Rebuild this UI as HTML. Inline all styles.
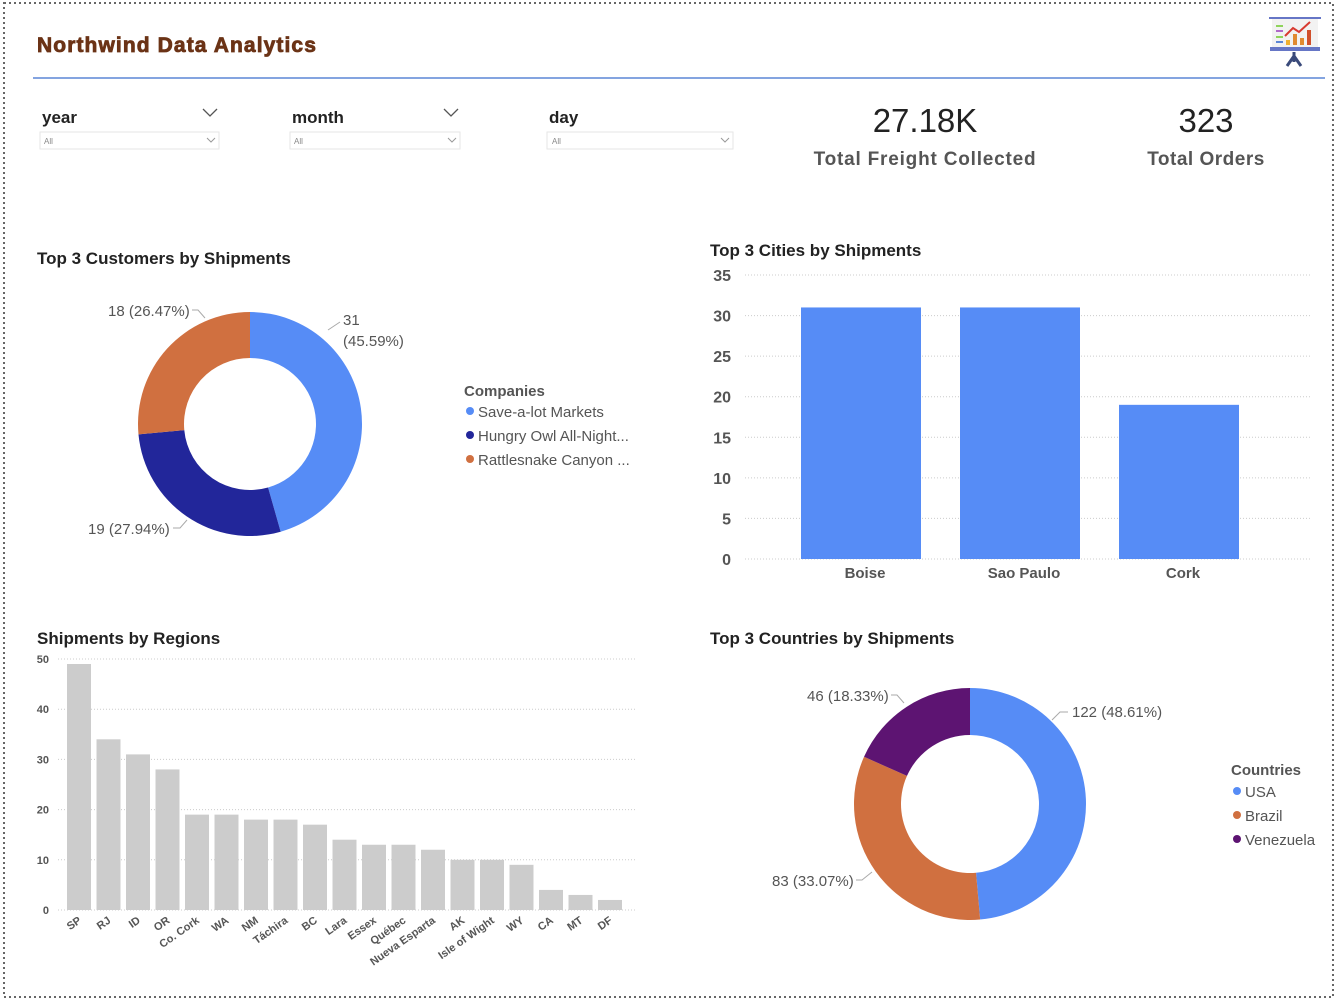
<!DOCTYPE html>
<html><head><meta charset="utf-8">
<style>
html,body{margin:0;padding:0;background:#fff;}
body{width:1337px;height:1000px;position:relative;overflow:hidden;font-family:"Liberation Sans",sans-serif;}
svg{position:absolute;left:0;top:0;}
text{font-family:"Liberation Sans",sans-serif;}
</style></head>
<body>
<svg id="s" width="1337" height="1000" viewBox="0 0 1337 1000">
<rect x="4" y="3" width="1329" height="994" fill="none" stroke="#666" stroke-width="2" stroke-dasharray="2,3"/>
<text x="37" y="52" font-size="21" font-weight="bold" fill="#6b3316" stroke="#6b3316" stroke-width="0.8" letter-spacing="1.1">Northwind Data Analytics</text>
<line x1="33" y1="78" x2="1325" y2="78" stroke="#5b86d6" stroke-width="1.5"/>
<g>
<line x1="1269" y1="18" x2="1321" y2="18" stroke="#6676c6" stroke-width="2"/>
<rect x="1272" y="19" width="46" height="28" fill="#f2f2f2"/>
<rect x="1270" y="47" width="50" height="4" fill="#6676c6"/>
<line x1="1276" y1="26" x2="1283" y2="26" stroke="#8fd45c" stroke-width="2"/>
<line x1="1276" y1="31" x2="1283" y2="31" stroke="#b067c9" stroke-width="2"/>
<line x1="1276" y1="37" x2="1283" y2="37" stroke="#8fd45c" stroke-width="2"/>
<line x1="1276" y1="42" x2="1283" y2="42" stroke="#5b86d6" stroke-width="2"/>
<rect x="1286" y="40" width="4" height="5" fill="#f0b030"/>
<rect x="1293" y="34" width="4" height="11" fill="#e08a30"/>
<rect x="1300" y="38" width="4" height="7" fill="#e08a30"/>
<rect x="1307" y="30" width="4" height="15" fill="#d0502c"/>
<polyline points="1285,36 1293,28 1299,32 1310,22" fill="none" stroke="#d83a30" stroke-width="2"/>
<path d="M1294 52 L1294 62 M1294 56 L1287 66 M1294 56 L1301 66" stroke="#3a4a7a" stroke-width="3" fill="none"/>
</g>
<g>
<text x="42" y="123" font-size="17" font-weight="bold" fill="#222">year</text>
<path d="M203 109 l7 7 l7 -7" fill="none" stroke="#555" stroke-width="1.3"/>
<rect x="40" y="132" width="179" height="17" fill="#fff" stroke="#e6e6e6"/>
<text x="44" y="144" font-size="8" fill="#888">All</text>
<path d="M207 138 l4 4 l4 -4" fill="none" stroke="#999"/>
</g>
<g>
<text x="292" y="123" font-size="17" font-weight="bold" fill="#222">month</text>
<path d="M444 109 l7 7 l7 -7" fill="none" stroke="#555" stroke-width="1.3"/>
<rect x="290" y="132" width="170" height="17" fill="#fff" stroke="#e6e6e6"/>
<text x="294" y="144" font-size="8" fill="#888">All</text>
<path d="M448 138 l4 4 l4 -4" fill="none" stroke="#999"/>
</g>
<g>
<text x="549" y="123" font-size="17" font-weight="bold" fill="#222">day</text>
<rect x="547" y="132" width="186" height="17" fill="#fff" stroke="#e6e6e6"/>
<text x="552" y="144" font-size="8" fill="#888">All</text>
<path d="M721 138 l4 4 l4 -4" fill="none" stroke="#999"/>
</g>
<text x="925" y="132" font-size="33" text-anchor="middle" fill="#222">27.18K</text>
<text x="925" y="165" font-size="19" font-weight="bold" text-anchor="middle" fill="#555" letter-spacing="0.8">Total Freight Collected</text>
<text x="1206" y="132" font-size="33" text-anchor="middle" fill="#222">323</text>
<text x="1206" y="165" font-size="19" font-weight="bold" text-anchor="middle" fill="#555" letter-spacing="0.5">Total Orders</text>

<text x="37" y="264" font-size="17" font-weight="bold" fill="#222">Top 3 Customers by Shipments</text>
<g id="donut1"></g>
<g>
<text x="464" y="396" font-size="15" font-weight="bold" fill="#555">Companies</text>
<circle cx="470" cy="411" r="4" fill="#568cf6"/><text x="478" y="417" font-size="15" fill="#555">Save-a-lot Markets</text>
<circle cx="470" cy="435" r="4" fill="#22269a"/><text x="478" y="441" font-size="15" fill="#555">Hungry Owl All-Night...</text>
<circle cx="470" cy="459" r="4" fill="#d07040"/><text x="478" y="465" font-size="15" fill="#555">Rattlesnake Canyon ...</text>
</g>

<text x="710" y="256" font-size="17" font-weight="bold" fill="#222">Top 3 Cities by Shipments</text>
<g id="cities"></g>

<text x="37" y="644" font-size="17" font-weight="bold" fill="#222">Shipments by Regions</text>
<g id="regions"></g>

<text x="710" y="644" font-size="17" font-weight="bold" fill="#222">Top 3 Countries by Shipments</text>
<g id="donut2"></g>
<g>
<text x="1231" y="775" font-size="15" font-weight="bold" fill="#555">Countries</text>
<circle cx="1237" cy="791" r="4" fill="#568cf6"/><text x="1245" y="797" font-size="15" fill="#555">USA</text>
<circle cx="1237" cy="815" r="4" fill="#d07040"/><text x="1245" y="821" font-size="15" fill="#555">Brazil</text>
<circle cx="1237" cy="839" r="4" fill="#5d1472"/><text x="1245" y="845" font-size="15" fill="#555">Venezuela</text>
</g>
</svg>
<script>
const customerNames=["Save-a-lot Markets","Hungry Owl All-Night","Rattlesnake Canyon"];
const customerValues=[31,19,18];
const customerLabels=["31","19 (27.94%)","18 (26.47%)"];
const cityNames=["Boise","Sao Paulo","Cork"];
const cityValues=[31,31,19];
const cityTicks=[0,5,10,15,20,25,30,35];
const regionNames=["SP","RJ","ID","OR","Co. Cork","WA","NM","Táchira","BC","Lara","Essex","Québec","Nueva Esparta","AK","Isle of Wight","WY","CA","MT","DF"];
const regionValues=[49,34,31,28,19,19,18,18,17,14,13,13,12,10,10,9,4,3,2];
const regionTicks=[0,10,20,30,40,50];
const countryNames=["USA","Brazil","Venezuela"];
const countryValues=[122,83,46];
const countryLabels=["122 (48.61%)","83 (33.07%)","46 (18.33%)"];

const NS="http://www.w3.org/2000/svg";
function mk(parent,tag,attrs,txt){const e=document.createElementNS(NS,tag);for(const k in attrs)e.setAttribute(k,attrs[k]);if(txt!==undefined)e.textContent=txt;parent.appendChild(e);return e;}

function donut(g,vals,colors,cx,cy,R,r,names){
  const tot=vals.reduce((a,b)=>a+b,0);let a0=-Math.PI/2;
  vals.forEach((v,i)=>{
    const a1=a0+v/tot*2*Math.PI;const big=(a1-a0)>Math.PI?1:0;
    const p=(rad,a)=>[cx+rad*Math.cos(a),cy+rad*Math.sin(a)];
    const [x1,y1]=p(R,a0),[x2,y2]=p(R,a1),[x3,y3]=p(r,a1),[x4,y4]=p(r,a0);
    const s=mk(g,'path',{d:`M${x1} ${y1} A${R} ${R} 0 ${big} 1 ${x2} ${y2} L${x3} ${y3} A${r} ${r} 0 ${big} 0 ${x4} ${y4} Z`,fill:colors[i]});
    
    
    a0=a1;
  });
}
const d1=document.getElementById('donut1');
donut(d1,customerValues,["#568cf6","#22269a","#d07040"],250,424,112,66,customerNames);
const tot1=customerValues.reduce((a,b)=>a+b,0);
let lb=mk(d1,'text',{x:343,y:325,'font-size':15,fill:'#555'},customerLabels[0]);

lb=mk(d1,'text',{x:343,y:346,'font-size':15,fill:'#555'},'('+(customerValues[0]/tot1*100).toFixed(2)+'%)');

mk(d1,'path',{d:'M328 330 L340 322',stroke:'#aaa',fill:'none'});
lb=mk(d1,'text',{x:88,y:534,'font-size':15,fill:'#555'},customerLabels[1]);

mk(d1,'path',{d:'M173 528 L180 528 L187 520',stroke:'#aaa',fill:'none'});
lb=mk(d1,'text',{x:108,y:316,'font-size':15,fill:'#555'},customerLabels[2]);

mk(d1,'path',{d:'M192 310 L198 310 L205 318',stroke:'#aaa',fill:'none'});

const d2=document.getElementById('donut2');
donut(d2,countryValues,["#568cf6","#d07040","#5d1472"],970,804,116,69,countryNames);
lb=mk(d2,'text',{x:1072,y:717,'font-size':15,fill:'#555'},countryLabels[0]);

mk(d2,'path',{d:'M1052 720 L1060 712 L1068 712',stroke:'#aaa',fill:'none'});
lb=mk(d2,'text',{x:772,y:886,'font-size':15,fill:'#555'},countryLabels[1]);

mk(d2,'path',{d:'M856 880 L862 880 L872 872',stroke:'#aaa',fill:'none'});
lb=mk(d2,'text',{x:807,y:701,'font-size':15,fill:'#555'},countryLabels[2]);

mk(d2,'path',{d:'M891 695 L897 695 L904 703',stroke:'#aaa',fill:'none'});

const cg=document.getElementById('cities');
const cy0=559,cyTop=275,cMax=35;
const cY=v=>cy0-(v/cMax)*(cy0-cyTop);
cityTicks.forEach(t=>{
  mk(cg,'line',{x1:745,x2:1310,y1:cY(t),y2:cY(t),stroke:'#ccc','stroke-dasharray':'1,2'});
  const tx=mk(cg,'text',{x:731,y:cY(t)+6,'font-size':16,'font-weight':'bold','text-anchor':'end',fill:'#555'},t);
  
});
const cStep=159,cX0=801,cW=120;
cityValues.forEach((v,i)=>{
  const x=cX0+i*cStep;
  const b=mk(cg,'rect',{x:x,y:cY(v),width:cW,height:cy0-cY(v),fill:'#568cf6'});
  
  
  const t=mk(cg,'text',{x:x+cW/2+4,y:578,'font-size':15,'font-weight':'bold','text-anchor':'middle',fill:'#555'},cityNames[i]);
  
});

const rg=document.getElementById('regions');
const ry0=910,ryTop=659,rMax=50;
const rY=v=>ry0-(v/rMax)*(ry0-ryTop);
regionTicks.forEach(t=>{
  mk(rg,'line',{x1:58,x2:637,y1:rY(t),y2:rY(t),stroke:'#ccc','stroke-dasharray':'1,2'});
  const tx=mk(rg,'text',{x:49,y:rY(t)+4,'font-size':11,'font-weight':'bold','text-anchor':'end',fill:'#555'},t);
  
});
const rStep=29.5,rX0=67,rW=24;
regionValues.forEach((v,i)=>{
  const x=rX0+i*rStep;
  const b=mk(rg,'rect',{x:x,y:rY(v),width:rW,height:ry0-rY(v),fill:'#cccccc'});
  
  
  const lx=x+rW/2+3,ly=922;
  const t=mk(rg,'text',{x:lx,y:ly,'font-size':11,'font-weight':'bold','text-anchor':'end',fill:'#555',transform:`rotate(-35 ${lx} ${ly})`},regionNames[i]);
  
});
</script>
</body></html>
